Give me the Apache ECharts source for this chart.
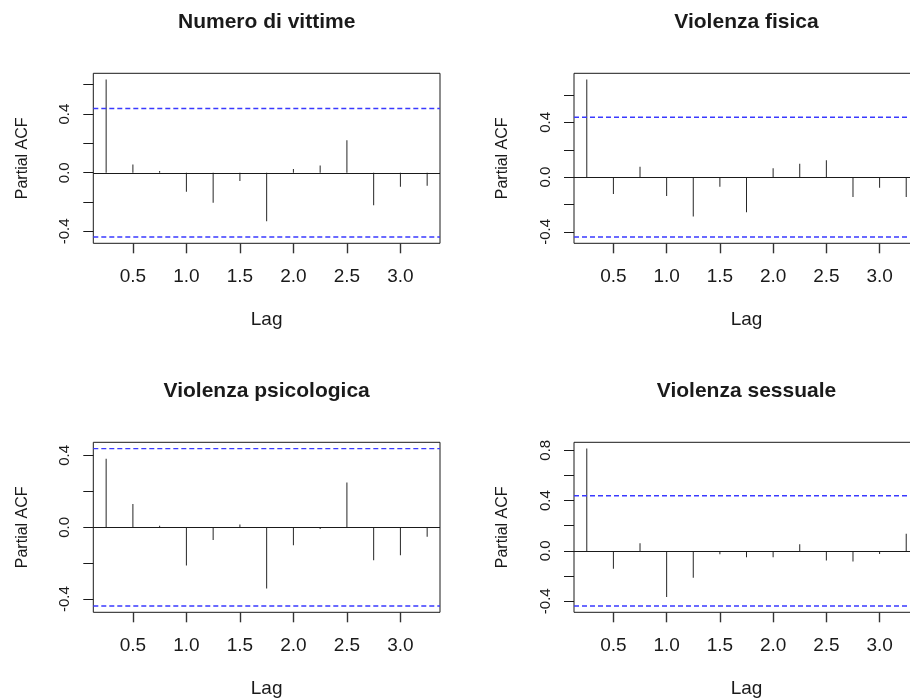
<!DOCTYPE html>
<html>
<head>
<meta charset="utf-8">
<script src="https://cdn.jsdelivr.net/npm/echarts@6/dist/echarts.min.js"></script>
<style>
html,body{margin:0;padding:0;background:#fff;}
#chart{width:910px;height:698px;}
</style>
</head>
<body>
<div id="chart"></div>
<script>
// ---- data ----
const lags = [0.25, 0.5, 0.75, 1.0, 1.25, 1.5, 1.75, 2.0, 2.25, 2.5, 2.75, 3.0, 3.25];
const titles = ['Numero di vittime', 'Violenza fisica', 'Violenza psicologica', 'Violenza sessuale'];
const pacfVittime = [0.635, 0.057, 0.012, -0.130, -0.205, -0.057, -0.331, 0.025, 0.050, 0.222, -0.221, -0.096, -0.089];
const pacfFisica = [0.713, -0.124, 0.075, -0.138, -0.288, -0.070, -0.257, 0.065, 0.097, 0.124, -0.145, -0.078, -0.145];
const pacfPsicologica = [0.381, 0.129, 0.009, -0.213, -0.070, 0.015, -0.340, -0.100, -0.009, 0.250, -0.183, -0.155, -0.052];
const pacfSessuale = [0.813, -0.142, 0.061, -0.367, -0.214, -0.026, -0.050, -0.050, 0.053, -0.077, -0.084, -0.024, 0.137];
const clim = 0.438;
const xTicks = [0.5, 1.0, 1.5, 2.0, 2.5, 3.0];
const yTicks1 = [-0.4, -0.2, 0.0, 0.2, 0.4, 0.6];
const yTicks2 = [-0.4, -0.2, 0.0, 0.2, 0.4, 0.6];
const yTicks3 = [-0.4, -0.2, 0.0, 0.2, 0.4];
const yTicks4 = [-0.4, -0.2, 0.0, 0.2, 0.4, 0.6, 0.8];
const yLabels1 = [-0.4, 0.0, 0.4];
const yLabels2 = [-0.4, 0.0, 0.4];
const yLabels3 = [-0.4, 0.0, 0.4];
const yLabels4 = [-0.4, 0.0, 0.4, 0.8];

const seriesValues = [pacfVittime, pacfFisica, pacfPsicologica, pacfSessuale];
const yTickSets = [yTicks1, yTicks2, yTicks3, yTicks4];
const yLabelSets = [yLabels1, yLabels2, yLabels3, yLabels4];

// ---- layout ----
const FONT = '"Liberation Sans", Arial, Helvetica, sans-serif';
const boxes = [
  {left: 93.3, top: 73.3, width: 346.7, height: 170},
  {left: 574, top: 73.3, width: 345, height: 170},
  {left: 93.3, top: 442.3, width: 346.7, height: 170},
  {left: 574, top: 442.3, width: 345, height: 170}
];
const INK = '#1a1a1a';
const TICK = '#333333';
const BLUE = '#3a3aff';

// R-style axis range: range of data & limits, extended by 4%
function rRange(vals, lims) {
  const lo = Math.min(-lims, ...vals), hi = Math.max(lims, ...vals);
  const ext = 0.04 * (hi - lo);
  return [lo - ext, hi + ext];
}
const xlo = Math.min(...lags), xhi = Math.max(...lags);
const xext = 0.04 * (xhi - xlo);

// horizontal reference line across the whole plot box, placed through the y scale
function hLine(color, dash, width, snap) {
  return function (params, api) {
    const cs = params.coordSys;
    let y = api.coord([xlo, api.value(0)])[1];
    if (snap) y = Math.round(y) + 0.5;
    return {
      type: 'line',
      shape: {x1: cs.x, y1: y, x2: cs.x + cs.width, y2: y},
      style: {stroke: color, lineWidth: width, lineDash: dash, fill: null},
      silent: true
    };
  };
}

const grid = [], xAxis = [], yAxis = [], series = [], title = [];
boxes.forEach((b, i) => {
  grid.push({
    left: b.left, top: b.top, width: b.width, height: b.height,
    show: true, borderColor: INK, borderWidth: 1, backgroundColor: 'transparent',
    containLabel: false,
    outerBounds: {left: -300, right: -300, top: -300, bottom: -300}
  });
  xAxis.push({
    type: 'value', gridIndex: i, min: xlo - xext, max: xhi + xext, position: 'bottom',
    axisLine: {show: true, onZero: false, lineStyle: {color: 'rgba(0,0,0,0)'}},
    axisTick: {show: true, inside: false, length: 10, customValues: xTicks, lineStyle: {color: TICK, width: 1.4}},
    axisLabel: {show: true, customValues: xTicks, margin: 24, color: INK, fontSize: 19, fontFamily: FONT,
      formatter: v => v.toFixed(1)},
    splitLine: {show: false},
    name: 'Lag', nameLocation: 'middle', nameGap: 67,
    nameTextStyle: {color: INK, fontSize: 19, fontFamily: FONT}
  });
  const yr = rRange(seriesValues[i], clim);
  yAxis.push({
    type: 'value', gridIndex: i, min: yr[0], max: yr[1], position: 'left',
    axisLine: {show: true, onZero: false, lineStyle: {color: 'rgba(0,0,0,0)'}},
    axisTick: {show: true, inside: false, length: 10, customValues: yTickSets[i], lineStyle: {color: INK, width: 1}},
    axisLabel: {show: true, customValues: yLabelSets[i], rotate: 90, margin: 21, color: INK, fontSize: 15, fontFamily: FONT,
      formatter: v => v.toFixed(1)},
    splitLine: {show: false},
    name: 'Partial ACF', nameLocation: 'middle', nameGap: 63, nameRotate: 90, nameMoveOverlap: false,
    nameTextStyle: {color: INK, fontSize: 16, fontFamily: FONT}
  });
  // PACF spikes
  series.push({
    type: 'bar', xAxisIndex: i, yAxisIndex: i,
    data: lags.map((l, k) => [l, seriesValues[i][k]]),
    barWidth: 1, itemStyle: {color: '#262626'},
    animation: false, silent: true, z: 3
  });
  // zero line
  series.push({
    type: 'custom', xAxisIndex: i, yAxisIndex: i, renderItem: hLine(INK, null, 1, true),
    data: [[0]], dimensions: ['y'], encode: {x: -1, y: 0}, clip: false, animation: false, silent: true, z: 4
  });
  // confidence limits (dashed blue)
  series.push({
    type: 'custom', xAxisIndex: i, yAxisIndex: i, renderItem: hLine(BLUE, [5, 3], 1.4, false),
    data: [[clim], [-clim]], dimensions: ['y'], encode: {x: -1, y: 0}, clip: false, animation: false, silent: true, z: 4
  });
  title.push({
    text: titles[i], left: b.left + b.width / 2, top: b.top - 61.5, textAlign: 'center', padding: 0,
    textStyle: {color: INK, fontSize: 21, fontWeight: 'bold', fontFamily: FONT}
  });
});

const chart = echarts.init(document.getElementById('chart'), null, {renderer: 'canvas'});
chart.setOption({
  animation: false,
  backgroundColor: '#fff',
  title, grid, xAxis, yAxis, series
});
</script>
</body>
</html>
